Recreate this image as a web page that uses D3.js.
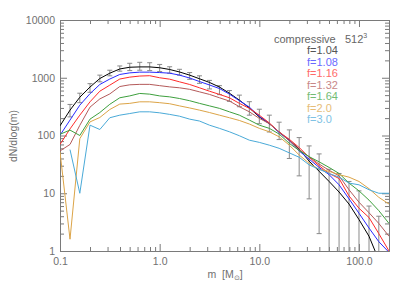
<!DOCTYPE html>
<html>
<head>
<meta charset="utf-8">
<script src="https://cdn.jsdelivr.net/npm/d3@7"></script>
<style>
  body { margin: 0; background: #fff; }
  svg text { font-family: "Liberation Sans", Arial, sans-serif; }
</style>
</head>
<body>
<svg id="graph"></svg>
<script>
// mass bin centres (M_sun), 0.1 dex bins
var massBins = [0.1, 0.126, 0.158, 0.2, 0.251, 0.316, 0.398, 0.501, 0.631, 0.794,
  1.0, 1.26, 1.58, 2.0, 2.51, 3.16, 3.98, 5.01, 6.31, 7.94,
  10.0, 12.6, 15.8, 20.0, 25.1, 31.6, 39.8, 50.1, 63.1, 79.4,
  100, 126, 158, 200]

var f104 = [147, 275, 460, 690, 970, 1200, 1420, 1520, 1540, 1540,
  1490, 1390, 1260, 1110, 960, 830, 690, 540, 410, 300,
  210, 160, 115, 83, 58, 36, 24, 16, 10.5, 6.5,
  3.5, 1.8, 0.7, 0.3]
var f108 = [101, 185, 335, 530, 765, 950, 1140, 1215, 1250, 1250,
  1230, 1200, 1110, 990, 860, 750, 650, 520, 400, 310,
  215, 162, 112, 82, 54, 39, 28, 21, 14, 8,
  4.5, 2.5, 1.45, 0.95]
var f116 = [70, 130, 225, 383, 585, 745, 950, 1025, 1070, 1085,
  1000, 945, 850, 765, 670, 585, 515, 450, 360, 295,
  225, 165, 115, 86, 62, 42, 30, 22, 18, 9,
  5.5, 3.8, 2.0, 1.0]
var f132 = [54, 70, 150, 310, 430, 525, 705, 755, 768, 768,
  730, 695, 670, 630, 570, 515, 450, 395, 315, 257,
  198, 160, 115, 81, 57, 43, 32, 25, 20, 11.5,
  7, 4.6, 3.0, 1.8]
var f164 = [105, 124, 100, 192, 250, 347, 450, 485, 535, 520,
  485, 467, 437, 400, 360, 326, 295, 257, 225, 185,
  151, 133, 106, 73, 55, 43, 35, 28, 22, 15,
  11, 7.6, 5.0, 3.0]
var f20 = [52, 1.6, 88, 172, 205, 282, 350, 360, 383, 383,
  370, 355, 326, 300, 275, 250, 225, 203, 182, 158,
  133, 116, 95, 68, 46, 33, 26, 24, 21, 19,
  16, 12, 8.5, 6.5]
var f30 = [null, 57, 10, 151, 127, 203, 225, 240, 257, 257,
  247, 232, 216, 192, 178, 151, 133, 116, 99, 83,
  76, 68, 60, 50, 42, 31, 26, 22, 19, 15,
  14, 11.5, 10, 10]

// error bar ends on the f=1.04 curve
var errHigh = [null, 345, 540, 790, 1110, 1350, 1600, 1780, 1850, 1820,
  1700, 1550, 1400, 1230, 1080, 900, 730, 600, 500, 385,
  285, 225, 170, 125, 92, 66, 48, 26, 22, 16,
  11, 6, 4, null]
var errLow = [null, 210, 370, 560, 850, 1080, 1300, 1330, 1350, 1330,
  1280, 1200, 1110, 940, 800, 640, 510, 390, 315, 225,
  160, 115, 85, 40, 20, 8, 2, 0.5, 0.5, 0.5,
  0.5, 0.5, 0.5, null]

var seriesLabels = ["f=1.04", "f=1.08", "f=1.16", "f=1.32", "f=1.64", "f=2.0", "f=3.0"]
var seriesValues = [f104, f108, f116, f132, f164, f20, f30]
var seriesColors = ["#000000", "#2a2aff", "#ff2a2a", "#b45a5a", "#3ea03e", "#dca447", "#4aaad8"]
var labelColors = ["#555555", "#6a6aff", "#ff6a6a", "#c88888", "#74bc74", "#e6bd78", "#80c2e4"]

var xTicks = [0.1, 1, 10, 100]
var xTickLabels = ["0.1", "1.0", "10.0", "100.0"]
var yTicks = [1, 10, 100, 1000, 10000]
var yTickLabels = ["1", "10", "100", "1000", "10000"]

var screen = {width: 407, height: 290}
var margin = {left: 60, right: 18, top: 20, bottom: 39}
var axisColor = "#7a7a7a"

var svg = d3.select("#graph")
  .attr("width", screen.width)
  .attr("height", screen.height)

var xScale = d3.scaleLog()
  .domain([0.1, 200])
  .range([margin.left, screen.width - margin.right])
var yScale = d3.scaleLog()
  .domain([1, 10000])
  .range([screen.height - margin.bottom, margin.top])

var x0 = xScale.range()[0], x1 = xScale.range()[1]
var y0 = yScale.range()[0], y1 = yScale.range()[1]

svg.append("clipPath").attr("id", "clip")
  .append("rect")
  .attr("x", x0).attr("y", y1)
  .attr("width", x1 - x0).attr("height", y0 - y1)

// minor tick positions
var minorX = []
for (var d = 0.1; d < 1000; d *= 10) {
  for (var i = 2; i <= 9; i++) if (d * i <= 200) minorX.push(d * i)
}
var minorY = []
for (var d = 1; d < 10000; d *= 10) {
  for (var i = 2; i <= 9; i++) minorY.push(d * i)
}

var styleAxis = function (g) {
  g.selectAll("path").attr("stroke", axisColor)
  g.selectAll("line").attr("stroke", axisColor)
  g.selectAll("text").attr("fill", "#707070").style("font-size", "10.5px")
}

// bottom
svg.append("g").attr("transform", "translate(0," + y0 + ")")
  .call(d3.axisBottom(xScale).tickValues(xTicks)
    .tickFormat(function (d, i) { return xTickLabels[i] })
    .tickSizeInner(-7).tickSizeOuter(0).tickPadding(7))
  .call(styleAxis)
svg.append("g").attr("transform", "translate(0," + y0 + ")")
  .call(d3.axisBottom(xScale).tickValues(minorX).tickFormat("").tickSizeInner(-4).tickSizeOuter(0))
  .call(styleAxis)
// top
svg.append("g").attr("transform", "translate(0," + y1 + ")")
  .call(d3.axisTop(xScale).tickValues(xTicks).tickFormat("").tickSizeInner(-7).tickSizeOuter(0))
  .call(styleAxis)
svg.append("g").attr("transform", "translate(0," + y1 + ")")
  .call(d3.axisTop(xScale).tickValues(minorX).tickFormat("").tickSizeInner(-4).tickSizeOuter(0))
  .call(styleAxis)
// left
svg.append("g").attr("transform", "translate(" + x0 + ",0)")
  .call(d3.axisLeft(yScale).tickValues(yTicks)
    .tickFormat(function (d, i) { return yTickLabels[i] })
    .tickSizeInner(-7).tickSizeOuter(0).tickPadding(5))
  .call(styleAxis)
svg.append("g").attr("transform", "translate(" + x0 + ",0)")
  .call(d3.axisLeft(yScale).tickValues(minorY).tickFormat("").tickSizeInner(-4).tickSizeOuter(0))
  .call(styleAxis)
// right
svg.append("g").attr("transform", "translate(" + x1 + ",0)")
  .call(d3.axisRight(yScale).tickValues(yTicks).tickFormat("").tickSizeInner(-7).tickSizeOuter(0))
  .call(styleAxis)
svg.append("g").attr("transform", "translate(" + x1 + ",0)")
  .call(d3.axisRight(yScale).tickValues(minorY).tickFormat("").tickSizeInner(-4).tickSizeOuter(0))
  .call(styleAxis)

// axis titles
var xTitle = svg.append("text")
  .attr("x", 225).attr("y", 278)
  .attr("text-anchor", "middle")
  .attr("fill", "#707070").style("font-size", "10.5px")
  .attr("xml:space", "preserve")
xTitle.append("tspan").text("m  [M")
xTitle.append("tspan").text("\u2299").style("font-size", "7px").attr("dy", 2)
xTitle.append("tspan").text("]").attr("dy", -2)

svg.append("text")
  .attr("transform", "translate(17,136) rotate(-90)")
  .attr("text-anchor", "middle")
  .attr("fill", "#707070").style("font-size", "10.5px")
  .text("dN/dlog(m)")

var plot = svg.append("g").attr("clip-path", "url(#clip)")

var line = d3.line()
  .defined(function (d) { return d.v != null })
  .x(function (d) { return xScale(d.m) })
  .y(function (d) { return yScale(Math.max(d.v, 0.01)) })

var drawSeries = function (k) {
  var pts = massBins.map(function (m, i) { return {m: m, v: seriesValues[k][i]} })
  plot.append("path")
    .datum(pts)
    .attr("fill", "none")
    .attr("stroke", seriesColors[k])
    .attr("stroke-width", 1)
    .attr("d", line)
}

// error bars on f=1.04
var bars = massBins.map(function (m, i) { return {m: m, hi: errHigh[i], lo: errLow[i]} })
  .filter(function (d) { return d.hi != null })
var eb = plot.selectAll("g.err").data(bars).enter().append("g").attr("class", "err")
  .attr("stroke", "#8a8a8a").attr("stroke-width", 1)
eb.append("line")
  .attr("x1", function (d) { return xScale(d.m) }).attr("x2", function (d) { return xScale(d.m) })
  .attr("y1", function (d) { return yScale(d.hi) }).attr("y2", function (d) { return yScale(d.lo) })
eb.append("line")
  .attr("x1", function (d) { return xScale(d.m) - 2.5 }).attr("x2", function (d) { return xScale(d.m) + 2.5 })
  .attr("y1", function (d) { return yScale(d.hi) }).attr("y2", function (d) { return yScale(d.hi) })
eb.append("line")
  .attr("x1", function (d) { return xScale(d.m) - 2.5 }).attr("x2", function (d) { return xScale(d.m) + 2.5 })
  .attr("y1", function (d) { return yScale(d.lo) }).attr("y2", function (d) { return yScale(d.lo) })

for (var k = 0; k < seriesValues.length; k++) drawSeries(k)

// legend
svg.append("text")
  .attr("x", 274).attr("y", 43)
  .attr("fill", "#666").style("font-size", "11px")
  .text("compressive")
var res = svg.append("text")
  .attr("x", 345).attr("y", 43)
  .attr("fill", "#666").style("font-size", "11px")
res.append("tspan").text("512")
res.append("tspan").text("3").style("font-size", "7px").attr("dy", -5)

svg.selectAll("text.leg").data(seriesLabels).enter().append("text")
  .attr("class", "leg")
  .attr("x", 307)
  .attr("y", function (d, i) { return 54 + i * 11.5 })
  .attr("fill", function (d, i) { return labelColors[i] })
  .style("font-size", "11px")
  .text(function (d) { return d })
</script>
</body>
</html>
